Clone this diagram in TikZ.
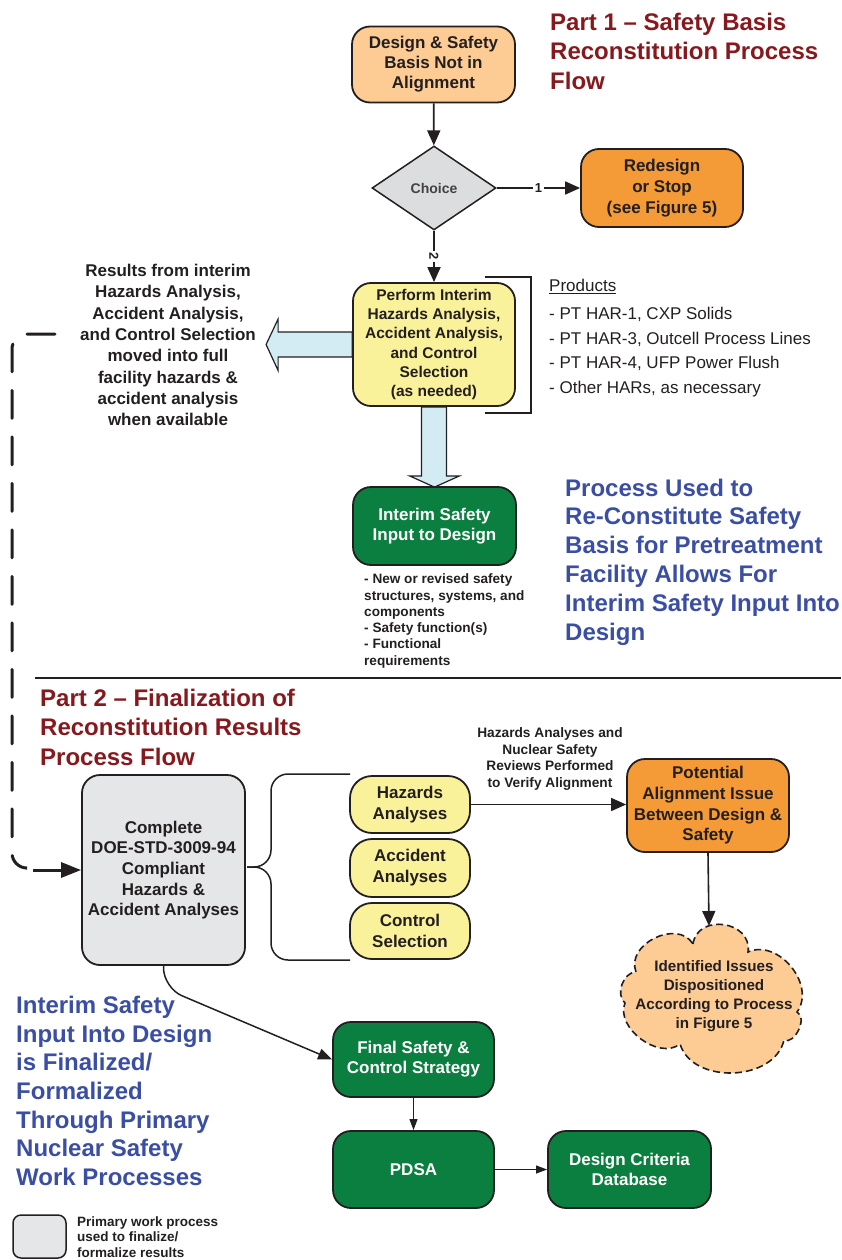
\documentclass[tikz,border=0pt]{standalone}
\usepackage{fontspec}
\setmainfont{Liberation Sans}
\usetikzlibrary{arrows.meta,shapes.geometric,calc,backgrounds}

\definecolor{ink}{HTML}{231F20}
\definecolor{titlered}{HTML}{86191D}
\definecolor{titleblue}{HTML}{3A4EA3}
\definecolor{paleorange}{HTML}{FDCB94}
\definecolor{deeporange}{HTML}{F49A37}
\definecolor{paleyellow}{HTML}{FAF29B}
\definecolor{safegreen}{HTML}{0B7F3F}
\definecolor{boxgray}{HTML}{E5E6E7}
\definecolor{diamondgray}{HTML}{DCDDDE}
\definecolor{paleblue}{HTML}{D3ECF3}

\newcommand{\fs}[2]{\fontsize{#1}{#2}\selectfont}

\begin{document}
\begin{tikzpicture}[x=1pt,y=-1pt,
  procbox/.style={draw=ink, line width=1.8pt, rounded corners=18pt, align=center,
    inner sep=0pt, text=ink, font=\bfseries\fs{17}{20.5}},
  greenbox/.style={procbox, fill=safegreen, text=white, font=\bfseries\fs{17}{20}},
  pill/.style={procbox, fill=paleyellow, rounded corners=22pt, minimum width=120pt, font=\bfseries\fs{17}{21}},
  conn/.style={draw=ink, line width=1.8pt, -{Triangle[length=15pt,width=13pt]}},
  thinconn/.style={draw=ink, line width=1pt, -{Triangle[length=11pt,width=8pt]}},
  lbl/.style={fill=white, inner sep=2pt, text=ink, font=\bfseries\fs{13}{14}},
  bigarrow/.style={draw=ink, line width=1.2pt, fill=paleblue, line join=miter},
  redtitle/.style={anchor=west, align=left, inner sep=0pt, text=titlered, font=\bfseries\fs{24}{29.5}},
  bluetitle/.style={anchor=west, align=left, inner sep=0pt, text=titleblue, font=\bfseries\fs{24}{28.8}},
  note/.style={inner sep=0pt, text=ink},
  loopline/.style={draw=ink, line width=3pt, line cap=round, dash pattern=on 28pt off 18.5pt},
  cloudline/.style={draw=ink, line width=1.6pt, dash pattern=on 7pt off 4pt, fill=paleorange},
]
\useasboundingbox (0,0) rectangle (841,1260);

% ---------- Part 1 ----------
\node[redtitle] (title1) at (550,51) {Part 1 -- Safety Basis\\Reconstitution Process\\Flow};

\node[procbox, fill=paleorange, minimum width=163pt, minimum height=76pt, font=\bfseries\fs{17}{20}] (design) at (433.5,64.5)
  {Design \& Safety\\Basis Not in\\Alignment};

\node[diamond, draw=ink, line width=1.5pt, fill=diamondgray, minimum width=124pt, minimum height=84pt,
  inner sep=0pt, text=ink!85, font=\bfseries\fs{14}{16}] (choice) at (434,188) {Choice};

\node[procbox, fill=deeporange, minimum width=162pt, minimum height=78pt, font=\bfseries\fs{17}{21}] (redesign) at (662,188)
  {Redesign\\or Stop\\(see Figure 5)};

\node[procbox, fill=paleyellow, minimum width=162pt, minimum height=123pt, font=\bfseries\fs{15.5}{19.3}] (perform) at (434,344.5)
  {Perform Interim\\Hazards Analysis,\\Accident Analysis,\\and Control\\Selection\\(as needed)};

\node[greenbox, minimum width=163pt, minimum height=78pt] (interim) at (434.5,526)
  {Interim Safety\\Input to Design};

\draw[conn] (design) -- (choice);
\draw[conn] (choice.east) -- node[lbl] {1} (redesign.west);
\draw[conn] (choice.south) -- node[lbl, rotate=-90, pos=0.5] {2} (perform.north);

% wide hollow arrows leaving the interim analysis
\begin{scope}[on background layer]
\draw[bigarrow] ($(perform.west)+(0,-12.5)$) -- ++(-74,0) -- ++(0,-13) -- ($(perform.west)+(-86,0)$)
  -- ($(perform.west)+(-74,26)$) -- ++(0,-13.5) -- ($(perform.west)+(0,12.5)$) -- cycle;
\draw[bigarrow] ($(perform.south)+(-12.5,0)$) -- ++(0,69) -- ++(-12,0) -- ($(interim.north)+(0,1)$)
  -- ($(perform.south)+(25.5,69)$) -- ++(-13,0) -- ($(perform.south)+(12.5,0)$) -- cycle;
\end{scope}

% bracket grouping the products
\coordinate (brTop) at (485,277);
\coordinate (brBot) at (485,413);
\draw[draw=ink, line width=1.3pt] (brTop) -- (531,277) -- (531,413) -- (brBot);

\node[note, anchor=west, align=left, font=\fs{17}{24.5}] (products) at (549,338)
  {\underline{Products}\\[4pt]- PT HAR-1, CXP Solids\\- PT HAR-3, Outcell Process Lines\\- PT HAR-4, UFP Power Flush\\- Other HARs, as necessary};

\node[note, align=center, font=\bfseries\fs{17}{21.3}] (results) at (168,345)
  {Results from interim\\Hazards Analysis,\\Accident Analysis,\\and Control Selection\\moved into full\\facility hazards \&\\accident analysis\\when available};

\node[note, anchor=west, align=left, font=\bfseries\fs{13.6}{16.3}] (outputs) at (364,621)
  {- New or revised safety\\structures, systems, and\\components\\- Safety function(s)\\- Functional\\requirements};

\node[bluetitle] (title1b) at (565,562)
  {Process Used to\\Re-Constitute Safety\\Basis for Pretreatment\\Facility Allows For\\Interim Safety Input Into\\Design};

% divider between the two parts
\coordinate (divL) at (35,678);
\coordinate (divR) at (841,678);
\draw[draw=ink, line width=1.5pt] (divL) -- (divR);

% ---------- Part 2 ----------
\node[redtitle] (title2) at (40,727) {Part 2 -- Finalization of\\Reconstitution Results\\Process Flow};

\node[procbox, fill=boxgray, minimum width=163pt, minimum height=190pt, font=\bfseries\fs{17}{20.7}] (gray) at (163.5,870)
  {Complete\\DOE-STD-3009-94\\Compliant\\Hazards \&\\Accident Analyses};

\node[pill, minimum height=57pt] (hazards) at (410,804.5) {Hazards\\Analyses};
\node[pill, minimum height=58pt] (accident) at (410,868) {Accident\\Analyses};
\node[pill, minimum height=56pt] (control) at (410,931) {Control\\Selection};

% brace from the complete analyses to its three parts
\coordinate (braceTop) at (350,774);
\coordinate (braceTip) at (247,867);
\coordinate (braceBot) at (350,960);
\draw[draw=ink, line width=1.5pt, rounded corners=17pt] (braceTop) -- (271,774) -- (271,867) -- (braceTip);
\draw[draw=ink, line width=1.5pt, rounded corners=17pt] (braceTip) -- (271,867) -- (271,960) -- (braceBot);

\node[procbox, fill=deeporange, minimum width=162pt, minimum height=93pt, font=\bfseries\fs{17}{20.7}] (potential) at (708,805.5)
  {Potential\\Alignment Issue\\Between Design \&\\Safety};

\draw[conn, line width=1.6pt] (hazards.east) -- (hazards.east -| potential.west);
\node[note, align=center, font=\bfseries\fs{13.7}{16.7}] (reviewnote) at (550,759)
  {Hazards Analyses and\\Nuclear Safety\\Reviews Performed\\to Verify Alignment};

% dashed cloud of seven puffs, text laid over it
\coordinate (cj1) at (693,944);
\coordinate (cj2) at (748,952);
\coordinate (cj3) at (797,1012);
\coordinate (cj4) at (784,1040);
\coordinate (cj5) at (680,1044);
\coordinate (cj6) at (625,1003);
\coordinate (cj7) at (636,972);
\draw[cloudline] (cj1) to[bend left=90, looseness=1.45] (cj2)
  to[bend left=75, looseness=1.1] (cj3)
  to[bend left=90] (cj4)
  to[bend left=75, looseness=1.05] (cj5)
  to[bend left=75] (cj6)
  to[bend left=70] (cj7)
  to[bend left=85, looseness=1.2] (cj1) -- cycle;
\node[note, align=center, font=\bfseries\fs{15.2}{18.8}] (cloudtext) at (714,996)
  {Identified Issues\\Dispositioned\\According to Process\\in Figure 5};
\coordinate (cloudTop) at (709,926);
\draw[conn, line width=1.6pt] (potential.south) -- (cloudTop);

\node[greenbox, minimum width=161pt, minimum height=75pt] (final) at (413.5,1059.5)
  {Final Safety \&\\Control Strategy};
\node[greenbox, minimum width=161pt, minimum height=77pt] (pdsa) at (413.5,1169.5) {PDSA};
\node[greenbox, minimum width=163pt, minimum height=77pt] (dcd) at (629.5,1169.5)
  {Design Criteria\\Database};

\draw[draw=ink, line width=1.5pt, rounded corners=20pt, -{Triangle[length=14pt,width=11pt]}]
  (gray.south) -- ++(0,22) -- (final.west);
\draw[thinconn] (final) -- (pdsa);
\draw[thinconn] (pdsa) -- (dcd);

\node[note, anchor=west, align=left, text=titleblue, font=\bfseries\fs{24}{28.7}] (title2b) at (16,1091)
  {Interim Safety\\Input Into Design\\is Finalized/\\Formalized\\Through Primary\\Nuclear Safety\\Work Processes};

% feedback path from interim results into the complete analyses
\coordinate (loopStart) at (55,334);
\coordinate (loopEnd) at (26,868);
\coordinate (feedIn) at (33,870);
\draw[loopline, rounded corners=15pt] (loopStart) -- (12,334) -- (12,868) -- (loopEnd);
\draw[draw=ink, line width=3pt, -{Triangle[length=20pt,width=15pt]}] (feedIn) -- (gray.west);

% legend
\node[draw=ink, line width=1.5pt, fill=boxgray, rounded corners=8pt, minimum width=53pt,
  minimum height=43pt, inner sep=0pt] (legendbox) at (39.5,1236.5) {};
\node[note, anchor=west, align=left, font=\bfseries\fs{13.5}{15.5}] (legendtext) at (77,1237)
  {Primary work process\\used to finalize/\\formalize results};
\end{tikzpicture}
\end{document}
